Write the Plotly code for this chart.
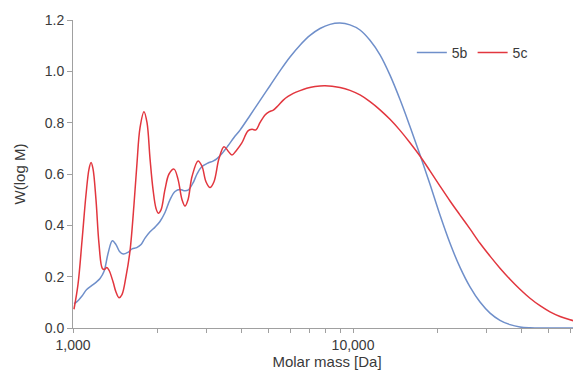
import plotly.graph_objects as go

# Molar mass [Da] and W(log M)
mass_5b = [1008, 1031, 1077, 1119, 1166, 1208, 1249, 1290, 1334, 1382, 1424, 1466, 1512,
           1572, 1625, 1689, 1750, 1808, 1884, 1963, 2045, 2131, 2221, 2314, 2411, 2492,
           2575, 2683, 2773, 2882, 3035, 3162, 3268, 3405, 3578, 3758, 3949,
           4287, 4653, 5053, 5486, 5957, 6467, 7022, 7624, 8278, 8985,
           9756, 10593, 11499, 12488, 13556, 14720, 15977, 17348, 18836, 20451, 22208,
           24114, 26173, 28420, 30858, 33497, 36370, 39477, 42870, 48507, 65220]
w_5b = [0.095, 0.102, 0.125, 0.150, 0.165, 0.178, 0.193, 0.22, 0.29, 0.340, 0.325, 0.298,
        0.288, 0.295, 0.308, 0.313, 0.325, 0.350, 0.375, 0.393, 0.415, 0.45, 0.50, 0.532,
        0.540, 0.535, 0.537, 0.565, 0.600, 0.628, 0.643, 0.650, 0.660, 0.680, 0.71, 0.742,
        0.771,
        0.828, 0.886, 0.944, 1.002, 1.056, 1.102, 1.140, 1.167, 1.183, 1.188,
        1.181, 1.161, 1.121, 1.064, 0.985, 0.890, 0.785, 0.675, 0.560, 0.440, 0.330,
        0.236, 0.160, 0.101, 0.058, 0.030, 0.013, 0.004, 0.001, 0.0, 0.0]

mass_5c = [1008, 1042, 1077, 1113, 1141, 1160, 1179, 1208, 1238, 1273, 1296, 1320, 1345,
           1390, 1424, 1460, 1496, 1546, 1598, 1651, 1692, 1735, 1793, 1838, 1884, 1931,
           1980, 2017, 2062, 2131, 2203, 2296, 2371, 2451, 2512, 2575, 2661, 2796, 2889,
           2985, 3085, 3188, 3322, 3462, 3578, 3697, 3821, 4004, 4217, 4358, 4503, 4653,
           4851, 5012, 5192, 5397, 5637, 5860, 6120, 6468, 6834, 7318, 7943,
           8985, 9756, 10593, 11499, 12488, 13556, 14720, 15977, 17348, 18836, 20451,
           22208, 24114, 26173, 28420, 30858, 33497, 36370, 39477, 42870, 46548, 50539,
           54876, 59566, 65220]
w_5c = [0.073, 0.17, 0.34, 0.52, 0.62, 0.645, 0.62, 0.50, 0.33, 0.232, 0.228, 0.236, 0.225,
        0.18, 0.14, 0.118, 0.13, 0.20, 0.30, 0.48, 0.64, 0.78, 0.843, 0.80, 0.66, 0.54,
        0.465, 0.447, 0.46, 0.54, 0.60, 0.619, 0.58, 0.50, 0.475, 0.50, 0.59, 0.651, 0.63,
        0.57, 0.547, 0.57, 0.66, 0.706, 0.69, 0.674, 0.69, 0.72, 0.768, 0.774, 0.772, 0.80,
        0.830, 0.842, 0.849, 0.866, 0.888, 0.902, 0.914, 0.925, 0.934, 0.941, 0.944,
        0.937, 0.926, 0.908, 0.882, 0.850, 0.813, 0.770, 0.722, 0.670, 0.612, 0.553,
        0.495, 0.440, 0.386, 0.330, 0.280, 0.233, 0.190, 0.151, 0.116, 0.087, 0.063,
        0.045, 0.032, 0.021]

x_tick_values = [1000, 2000, 3000, 4000, 5000, 6000, 7000, 8000, 9000,
                 10000, 20000, 30000, 40000, 50000, 60000]
x_tick_labels = ["1,000", "", "", "", "", "", "", "", "",
                 "10,000", "", "", "", "", ""]

FONT = "Liberation Sans, Arial, sans-serif"
TXT = "#3a3a3a"
AX = "#a0a0a0"

fig = go.Figure()
fig.add_trace(go.Scatter(x=mass_5b, y=w_5b, mode="lines", name="5b",
                         line=dict(color="#6f8fca", width=1.5, shape="spline", smoothing=1.0)))
fig.add_trace(go.Scatter(x=mass_5c, y=w_5c, mode="lines", name="5c",
                         line=dict(color="#e2363e", width=1.5, shape="spline", smoothing=1.0)))

# the page body has an 8px margin, so the figure is sized to leave it out
fig.update_layout(
    width=573, height=363,
    margin=dict(l=65, r=0, t=12, b=43),
    paper_bgcolor="white", plot_bgcolor="white",
    font=dict(family=FONT, size=14, color=TXT),
    showlegend=True,
    legend=dict(orientation="h", x=0.667, y=0.893, xanchor="left", yanchor="middle",
                font=dict(size=14, color=TXT), bgcolor="rgba(0,0,0,0)",
                itemwidth=30, tracegroupgap=0),
)
fig.update_xaxes(
    type="log", range=[3, 4.8143],
    tickvals=x_tick_values, ticktext=x_tick_labels,
    showgrid=False, zeroline=False,
    showline=True, linecolor=AX, linewidth=1,
    ticks="outside", ticklen=4, tickcolor=AX,
    tickfont=dict(size=14, color=TXT),
    title=dict(text="Molar mass [Da]", font=dict(size=15, color=TXT), standoff=2),
)
fig.update_yaxes(
    range=[0, 1.2], dtick=0.2, tickformat=".1f",
    showgrid=False, zeroline=False,
    showline=True, linecolor=AX, linewidth=1,
    ticks="outside", ticklen=5, tickcolor=AX,
    tickfont=dict(size=14, color=TXT),
    title=dict(text="W(log M)", font=dict(size=15, color=TXT), standoff=15),
)

fig.write_html("out.html")
